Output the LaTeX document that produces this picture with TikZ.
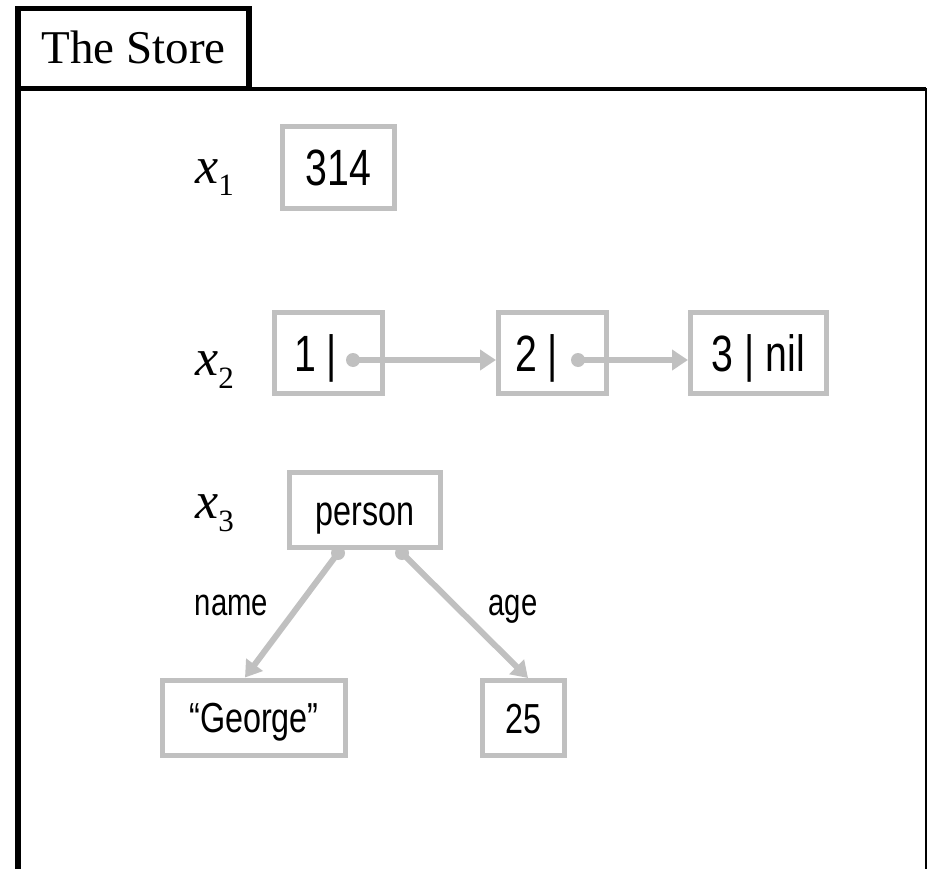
\documentclass[tikz,border=0pt]{standalone}
\usepackage{fontspec}
\setmainfont{Liberation Serif}
\newfontfamily\cellfont[FakeStretch=0.77]{Liberation Sans}
\usepackage{tikz}
\usetikzlibrary{positioning, arrows.meta}
\definecolor{cellgray}{HTML}{C0C0C0}

\begin{document}
\begin{tikzpicture}[
    x=1pt, y=-1pt,
    cell/.style={draw=cellgray, line width=5pt, inner sep=0pt, minimum height=81pt,
        text height=36.5pt, text depth=0pt, font=\cellfont\fontsize{51}{51}\selectfont},
    field/.style={cell, minimum height=75pt, text height=30pt,
        font=\cellfont\fontsize{42}{42}\selectfont},
    ptr/.style={circle, fill=cellgray, inner sep=0pt, minimum size=14pt},
    link/.style={draw=cellgray, line width=6pt, -{Triangle[length=16pt, width=20pt]}},
    var/.style={anchor=base west, inner sep=0pt, font=\fontsize{52}{52}\selectfont\itshape},
    tag/.style={inner sep=0pt, text=black, font=\cellfont\fontsize{38}{38}\selectfont}
]
    \useasboundingbox (0,0) rectangle (928,869);

    % The tab with the title, and the open frame below it
    \node[draw, line width=5.5pt, inner sep=0pt, minimum width=231pt, minimum height=80pt,
        text height=31pt, text depth=0pt, font=\fontsize{47}{47}\selectfont]
        (tab) at (133.5,48.4) {The Store};
    \draw[line width=5.5pt] (18,86) -- (18,875);
    \draw[line width=3.4pt] (247,89) -- (926,89);
    \draw[line width=2pt] (926,88) -- (926,875);

    % Variables x_1, x_2, x_3
    \node[var] (x1) at (195,183) {x\raisebox{-12pt}{\upshape\fontsize{31}{31}\selectfont 1}};
    \node[var] (x2) at (195,375) {x\raisebox{-13pt}{\upshape\fontsize{31}{31}\selectfont 2}};
    \node[var] (x3) at (195,518) {x\raisebox{-13pt}{\upshape\fontsize{31}{31}\selectfont 3}};

    % x_1: a plain value
    \node[cell, minimum width=112pt] (v314) at (338.5,167.5) {314};

    % x_2: a list of three cells
    \node[cell, minimum width=108pt] (l1) at (328.5,353) {1 |\hspace*{26pt}};
    \node[cell, minimum width=108pt] (l2) at (552.5,353) {2 |\hspace*{32pt}};
    \node[cell, minimum width=136pt] (l3) at (758.5,353) {3 | nil};
    \node[ptr] (p1) at (353,360) {};
    \node[ptr] (p2) at (578,360) {};
    \draw[link] (p1.center) -- (p1.center -| l2.west);
    \draw[link] (p2.center) -- (p2.center -| l3.west);

    % x_3: a record with two fields
    \node[field, minimum width=151pt] (rec) at (365,510) {person};
    \node[field, minimum width=183pt] (strval) at (254,717.5) {“George”};
    \node[field, minimum width=82pt] (numval) at (523.5,718) {25};
    \node[ptr] (pn) at (338,553) {};
    \node[ptr] (pa) at (402,553) {};
    \draw[link] (pn.center) -- node[pos=.42, left=28pt, tag] (lname) {name} ([xshift=-9pt]strval.north);
    \draw[link] (pa.center) -- node[pos=.45, right=27pt, tag] (lage) {age} ([xshift=4.5pt]numval.north);
\end{tikzpicture}
\end{document}
